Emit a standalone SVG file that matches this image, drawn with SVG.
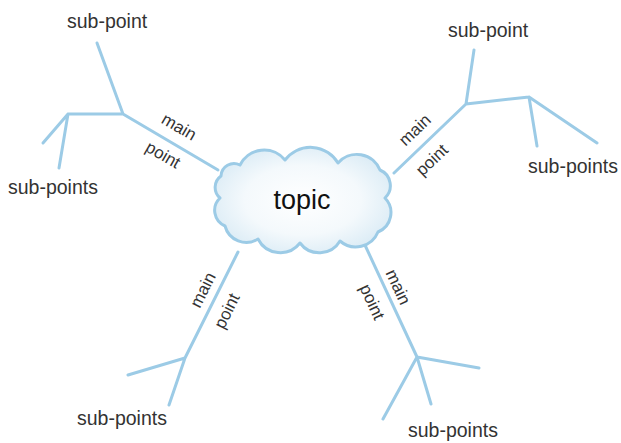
<svg xmlns="http://www.w3.org/2000/svg" width="621" height="443" viewBox="0 0 621 443">
<style>
.ln{stroke:#9ccbe6;stroke-width:3;fill:none;stroke-linecap:round;stroke-linejoin:round}
.lbl{font-family:"Liberation Sans",Arial,sans-serif;font-size:19.5px;fill:#333}
.mp{font-family:"Liberation Sans",Arial,sans-serif;font-size:17px;fill:#333;text-anchor:middle;dominant-baseline:central}
.topic{font-family:"Liberation Sans",Arial,sans-serif;font-size:27px;fill:#111;text-anchor:middle}
</style>
<defs>
<radialGradient id="cg" cx="50%" cy="50%" r="60%">
<stop offset="0" stop-color="#ffffff"/>
<stop offset="0.55" stop-color="#f4f9fc"/>
<stop offset="1" stop-color="#d6e9f4"/>
</radialGradient>
</defs>
<rect width="621" height="443" fill="#fff"/>
<g id="connectors">
<path class="ln" d="M218,170 L123,114 M97,43 L123,114 M123,114 L68,114 M68,114 L43,143 M68,114 L59,168"/>
<path class="ln" d="M394,173 L466,104 M474,50 L466,104 M466,104 L529,97 M529,97 L537,146 M529,97 L597,143"/>
<path class="ln" d="M238,252 L185,358 L169,405 M185,358 L128,375"/>
<path class="ln" d="M364,243 L417,357 M417,357 L479,368 M417,357 L431,404 M417,357 L383,419"/>
</g>
<g id="topic">
<path d="M221,176 A13,13 0 0 1 240,165 A27,27 0 0 1 285,160 A32,32 0 0 1 338,163 A25,25 0 0 1 380,170 A17,17 0 0 1 385,198 A21,21 0 0 1 378,232 A24,24 0 0 1 340,241 A24,24 0 0 1 300,243 A25,25 0 0 1 258,239 A22,22 0 0 1 225,226 A17,17 0 0 1 220,198 A14,14 0 0 1 221,176 Z" fill="url(#cg)" stroke="#9ccbe6" stroke-width="3" stroke-linejoin="round"/>
<text class="topic" x="302" y="209">topic</text>
</g>
<g id="main-tl">
<text class="mp" transform="translate(179,127) rotate(30)">main</text>
<text class="mp" transform="translate(163,155) rotate(30)">point</text>
</g>
<g id="main-tr">
<text class="mp" transform="translate(415,130) rotate(-44)">main</text>
<text class="mp" transform="translate(432,160) rotate(-44)">point</text>
</g>
<g id="main-bl">
<text class="mp" transform="translate(203,290) rotate(-63.4)">main</text>
<text class="mp" transform="translate(227,311) rotate(-63.4)">point</text>
</g>
<g id="main-br">
<text class="mp" transform="translate(398,287) rotate(65)">main</text>
<text class="mp" transform="translate(372,302) rotate(65)">point</text>
</g>
<g id="sub-tl"><text class="lbl" x="67" y="28">sub-point</text></g>
<g id="subs-tl"><text class="lbl" x="8" y="194">sub-points</text></g>
<g id="sub-tr"><text class="lbl" x="448" y="37">sub-point</text></g>
<g id="subs-tr"><text class="lbl" x="528" y="173">sub-points</text></g>
<g id="subs-bl"><text class="lbl" x="77" y="425">sub-points</text></g>
<g id="subs-br"><text class="lbl" x="408" y="437">sub-points</text></g>
</svg>
